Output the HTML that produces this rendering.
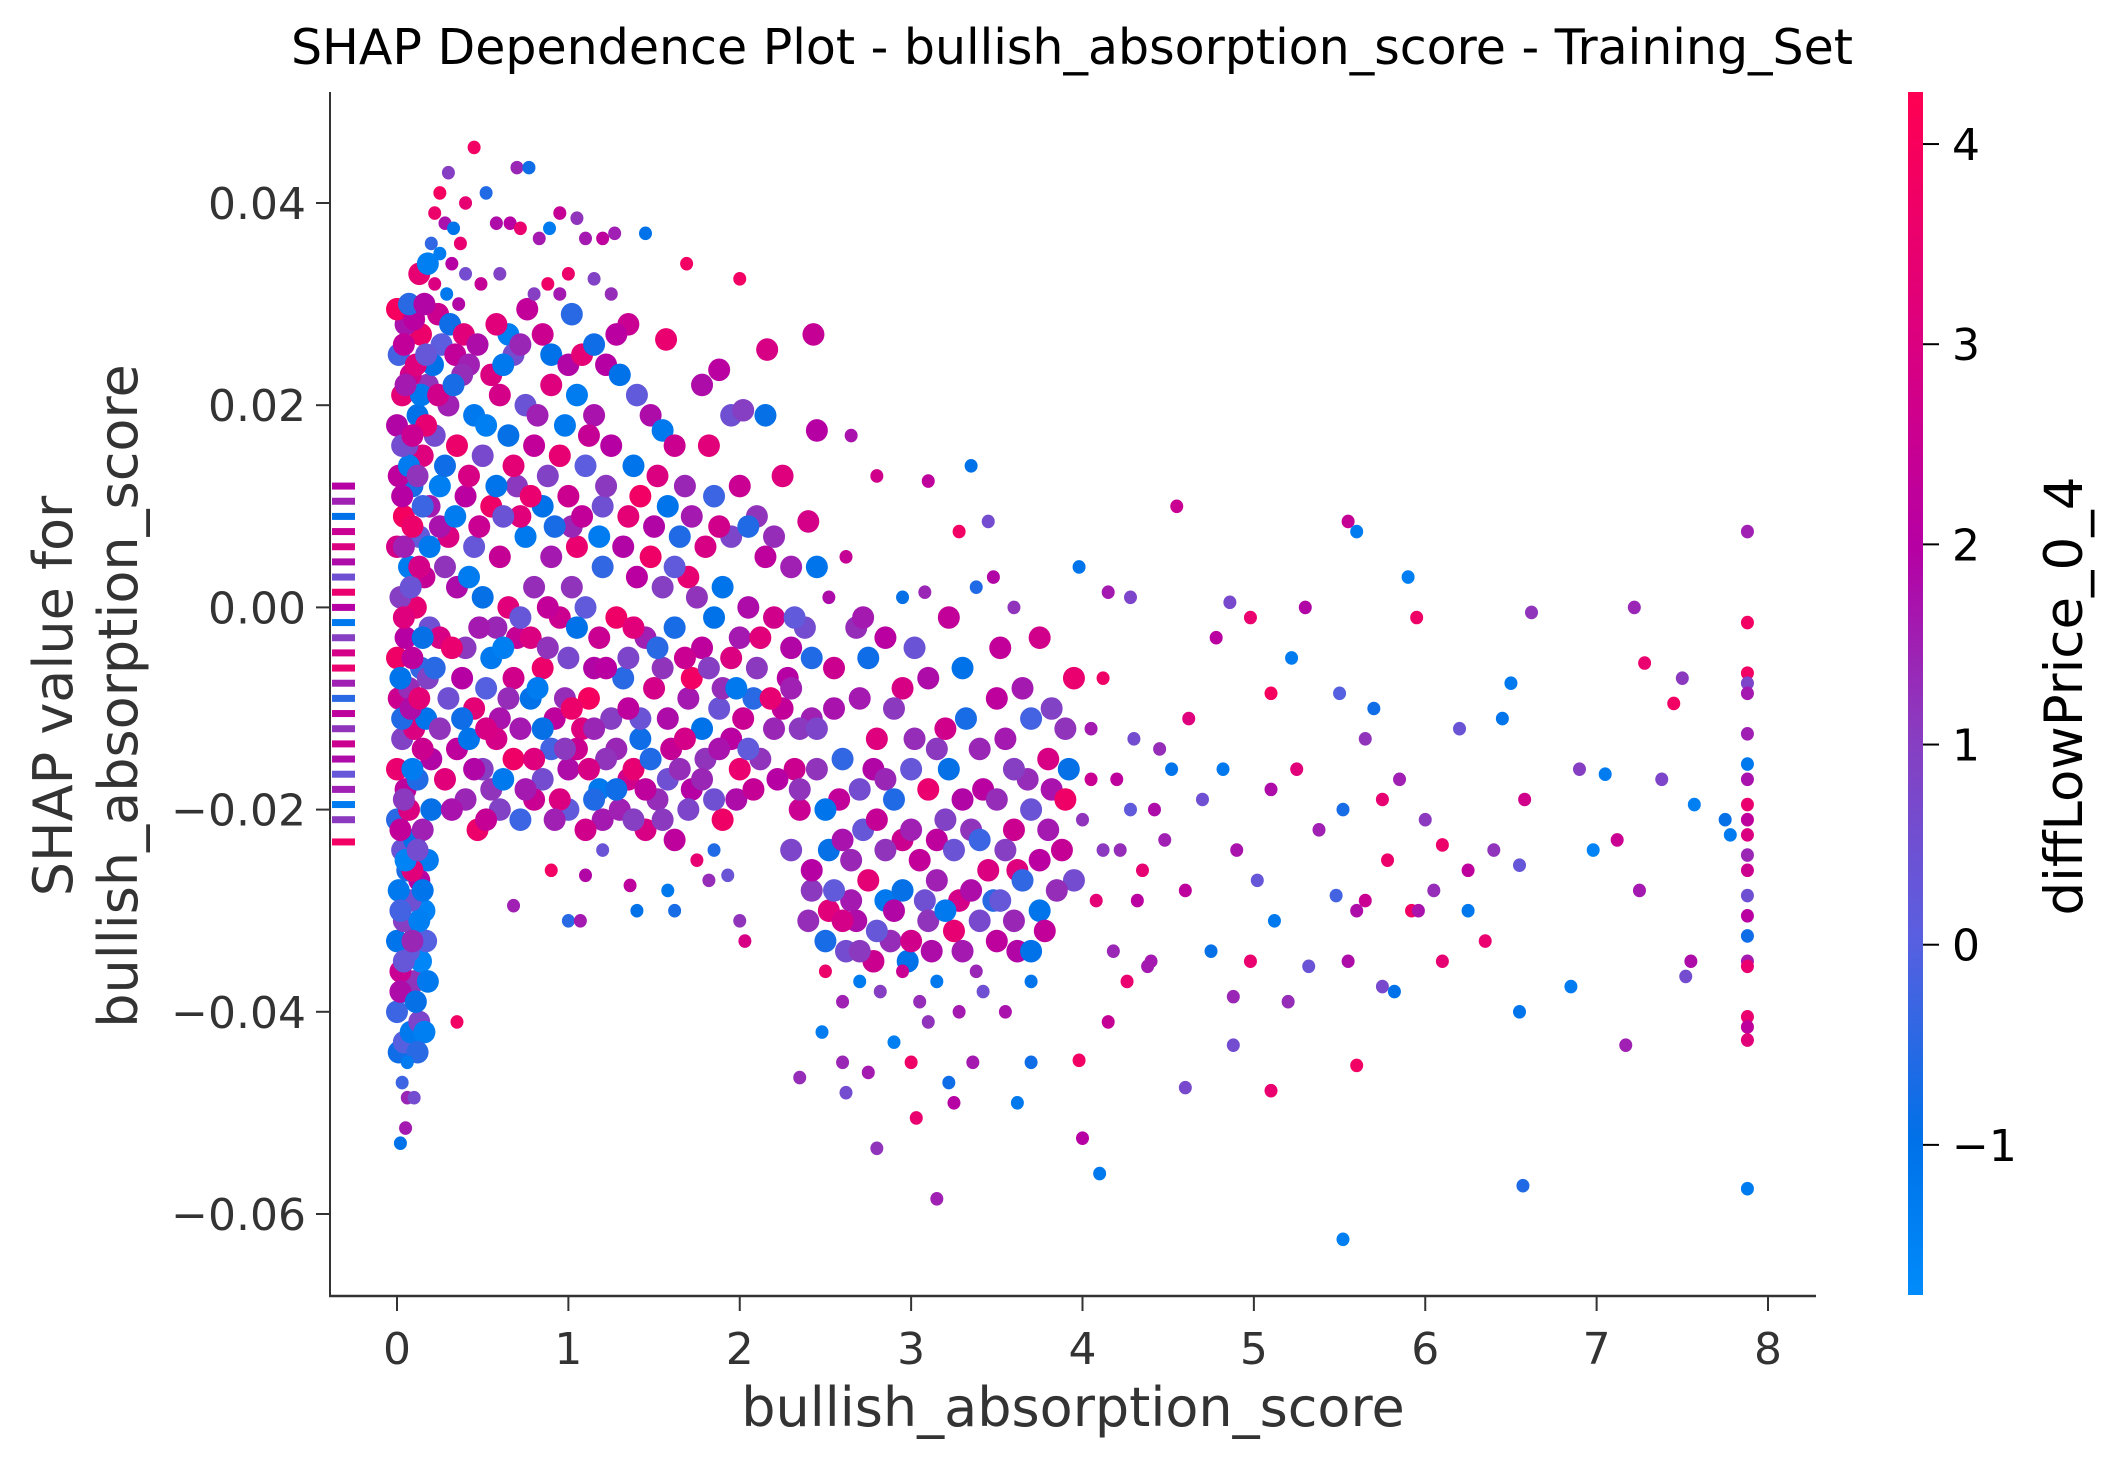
<!DOCTYPE html>
<html><head><meta charset="utf-8"><title>SHAP Dependence Plot</title>
<style>html,body{margin:0;padding:0;background:#fff}svg{display:block}text{font-family:"DejaVu Sans","Liberation Sans",sans-serif}</style>
</head><body>
<svg id="chart" width="2120" height="1471" viewBox="0 0 2120 1471" xmlns="http://www.w3.org/2000/svg">
<defs><linearGradient id="cbg" x1="0" y1="1" x2="0" y2="0">
<stop offset="0" stop-color="#008bfb"/><stop offset="0.13" stop-color="#0071e8"/><stop offset="0.3" stop-color="#5a5fe0"/><stop offset="0.47" stop-color="#8a3cc0"/><stop offset="0.62" stop-color="#b600a4"/><stop offset="0.8" stop-color="#dd007e"/><stop offset="1" stop-color="#ff0052"/></linearGradient></defs>
<text x="1072" y="64" font-size="49" text-anchor="middle" fill="#000">SHAP Dependence Plot - bullish_absorption_score - Training_Set</text>
<g id="rug"></g>
<g id="pts"></g>
<g id="axes"></g>
<text x="1073" y="1426" font-size="54" text-anchor="middle" fill="#333">bullish_absorption_score</text>
<text transform="translate(72,696) rotate(-90)" font-size="54" text-anchor="middle" fill="#333"><tspan x="0" dy="0">SHAP value for</tspan><tspan x="0" dy="65">bullish_absorption_score</tspan></text>
<rect x="1908" y="92" width="15" height="1203" fill="url(#cbg)"/>
<g id="cb"></g>
<text transform="translate(2082,696) rotate(-90)" font-size="53" text-anchor="middle" fill="#000">diffLowPrice_0_4</text>
</svg>
<script>
const xTicks=[0,1,2,3,4,5,6,7,8];
const yTicks=[0.04,0.02,0.00,-0.02,-0.04,-0.06];
const yTickLabels=["0.04","0.02","0.00","\u22120.02","\u22120.04","\u22120.06"];
const cTicks=[4,3,2,1,0,-1];
const cTickLabels=["4","3","2","1","0","\u22121"];
const rugY=[0.012,0.0105,0.009,0.0075,0.006,0.0045,0.003,0.0015,0,-0.0015,-0.003,-0.0045,-0.006,-0.0075,-0.009,-0.0105,-0.012,-0.0135,-0.015,-0.0165,-0.018,-0.0195,-0.021,-0.0232];
const rugC=[2,1.5,-1,2.5,3,1.8,0.5,3.5,2,-1.2,1,2.8,3.5,1.5,-0.5,2.2,1.2,2.6,1.8,0.3,1.5,-1.3,1.1,3.8];
const shapPoints=[
[0.02,-0.053,-1],[0.05,-0.0515,1.6],[0.06,-0.0485,1.4],[0.03,-0.047,-0.3],[0.1,-0.0485,0.6],[0.01,-0.044,-0.8],[0.04,-0.043,0],[0.08,-0.042,-1.2],[0.13,-0.041,0.8],[0.0,-0.04,-0.3],[0.16,-0.042,-1.4],[0.05,-0.038,-1],[0.1,-0.037,1.2],[0.02,-0.036,2.5],[0.14,-0.035,-1.6],[0.07,-0.034,0.2],[0.0,-0.033,-1.1],[0.11,-0.032,-0.8],[0.04,-0.031,1],[0.16,-0.03,-1.5],[0.08,-0.029,0.5],[0.01,-0.028,-1.2],[0.13,-0.027,2],[0.06,-0.026,-0.7],[0.18,-0.025,-1.3],[0.03,-0.024,0.4],[0.1,-0.023,-1],[0.15,-0.022,1.5],[0.0,-0.021,-0.5],[0.07,-0.02,3],[0.18,-0.037,-1.2],[0.12,-0.044,-0.5],[0.02,-0.038,1.8],[0.17,-0.033,0],[0.09,-0.026,3.2],[0.2,-0.02,-0.9],[0.35,-0.041,3.8],[0.05,-0.018,2.2],[0.0,-0.016,3.5],[0.12,-0.017,-0.6],[0.2,-0.015,1.9],[0.03,-0.013,0.9],[0.1,-0.012,3],[0.17,-0.011,-1.1],[0.01,-0.009,2.6],[0.07,-0.008,1.3],[0.14,-0.006,-0.4],[0.0,-0.005,3.7],[0.05,-0.003,2],[0.19,-0.002,0.5],[0.11,0.0,3.4],[0.02,0.001,1],[0.16,0.003,2.4],[0.07,0.004,-1.3],[0.0,0.006,2.8],[0.13,0.007,0.2],[0.04,0.009,3.9],[0.19,0.01,1.6],[0.09,0.012,-0.7],[0.01,0.013,2.2],[0.15,0.015,3.1],[0.06,0.016,0.8],[0.0,0.018,1.9],[0.12,0.019,-1],[0.03,0.021,3.3],[0.18,0.022,1.2],[0.08,0.023,2.7],[0.01,0.025,-0.2],[0.14,0.027,3.6],[0.05,0.028,1.7],[0.0,0.0295,3.9],[0.1,0.0285,2.1],
[0.06,-0.045,-1.3],[0.11,-0.039,-0.9],[0.04,-0.035,0.3],[0.13,-0.031,-1.4],[0.02,-0.03,-0.2],[0.09,-0.033,1.4],[0.15,-0.028,-1.1],[0.05,-0.025,-1.5],[0.12,-0.024,0.6],[0.02,-0.022,2.3],
[0.2,0.036,-0.4],[0.25,0.041,3.9],[0.3,0.043,1],[0.22,0.039,3.6],[0.28,0.038,1.7],[0.33,0.0375,-1.1],[0.37,0.036,3.5],[0.25,0.035,-1.3],[0.32,0.034,2],[0.4,0.033,0.6],[0.22,0.032,3],[0.29,0.031,-1.2],[0.36,0.03,1.9],[0.24,0.029,2.6],[0.31,0.028,-0.8],[0.39,0.027,3.2],[0.26,0.026,0.1],[0.34,0.025,2.3],[0.21,0.024,-1],[0.42,0.024,1.5],[0.45,0.0455,3.8],[0.4,0.04,3.4],[0.52,0.041,-0.6],[0.58,0.038,1.8],[0.49,0.032,2.4],[0.6,0.033,0.9],[0.7,0.0435,1.4],[0.77,0.0435,-0.8],[0.66,0.038,2],[0.72,0.0375,3.5],[0.83,0.0365,1.6],[0.89,0.0375,-1.3],[0.95,0.039,2.4],[1.05,0.0385,1.2],[1.1,0.0365,1.6],[1.2,0.0365,2.2],[1.27,0.037,1.5],[1.45,0.037,-1],[1.0,0.033,3.6],[0.76,0.0295,2.3],[0.8,0.031,1],[0.88,0.032,3.7],[0.95,0.031,1.6],[1.02,0.029,-0.5],[1.15,0.0325,0.9],[1.25,0.031,1.3],[1.35,0.028,2.5],[1.69,0.034,3.8],[2.0,0.0325,3.8],[2.43,0.027,2.4],[2.16,0.0255,2.9],[1.57,0.0265,3.5],[0.65,0.027,-1.4],[0.68,0.025,0.6],[0.55,0.023,3],[1.22,0.024,2],[1.3,0.023,-1],[1.4,0.021,0.2],[1.48,0.019,1.8],[1.55,0.0175,-1.2],[1.62,0.016,2.6],[1.78,0.022,1.8],[1.88,0.0235,2.1],[1.95,0.019,0.5],[2.02,0.0195,1],[2.15,0.019,-0.9],[1.82,0.016,3.2],[2.25,0.013,3.1],[2.45,0.0175,2],[2.65,0.017,1.7],[2.8,0.013,2.7],[3.1,0.0125,2.2],[3.35,0.014,-1],[3.45,0.0085,0.6],[3.28,0.0075,3.8],[2.4,0.0085,2.8],
[0.3,0.02,1.5],[0.45,0.019,-1.2],[0.6,0.021,2.8],[0.75,0.02,0.4],[0.9,0.022,3.1],[1.05,0.021,-1.3],[1.15,0.019,1.7],[0.35,0.016,3.6],[0.5,0.015,0.7],[0.65,0.017,-0.9],[0.8,0.016,2.3],[0.95,0.015,3.4],[1.1,0.014,0.1],[1.25,0.016,2],[1.38,0.014,-1.1],[1.52,0.013,3],[1.68,0.012,1.4],[1.85,0.011,-0.3],[2.0,0.012,2.5],[2.1,0.009,1.2],[0.25,0.012,-1.4],[0.4,0.011,2.1],[0.55,0.01,3.7],[0.7,0.012,1.1],[0.85,0.01,-1],[1.0,0.011,2.6],[1.2,0.01,0.5],[1.35,0.009,3.3],[1.5,0.008,1.9],[1.65,0.007,-0.6],[1.8,0.006,2.9],[1.95,0.007,0.8],[2.15,0.005,2.2],[2.3,0.004,1.5],[0.3,0.007,3],[0.45,0.006,0.3],[0.6,0.005,2.4],[0.75,0.007,-1.2],[0.9,0.005,1.6],[1.05,0.006,3.5],[1.2,0.004,-0.4],[1.4,0.003,2.1],[1.55,0.002,1],[1.7,0.003,3.4],[1.9,0.002,-1.1],[2.05,0.0,1.8],[2.2,-0.001,2.7],[2.38,-0.002,0.6],[0.35,0.002,1.8],[0.5,0.001,-0.9],[0.65,0.0,3.2],[0.8,0.002,1.3],[0.95,-0.001,2.6],[1.1,0.0,0.2],[1.28,-0.001,3.7],[1.45,-0.003,1.5],[1.62,-0.002,-0.7],[1.78,-0.004,2.2],[1.95,-0.005,3],[2.1,-0.006,1.1],[2.28,-0.007,2],[0.25,-0.003,2.9],[0.4,-0.004,1.1],[0.55,-0.005,-1.2],[0.7,-0.003,2.4],[0.85,-0.006,3.6],[1.0,-0.005,0.7],[1.15,-0.006,1.9],[1.32,-0.007,-0.5],[1.5,-0.008,2.8],[1.7,-0.009,1.6],[1.88,-0.01,0.4],[2.02,-0.011,2.5],[2.2,-0.012,1.4],[0.3,-0.009,0.5],[0.45,-0.01,3.3],[0.6,-0.011,1.7],[0.78,-0.009,-1],[0.92,-0.011,2.2],[1.08,-0.012,3.1],[1.25,-0.011,1],[1.42,-0.013,-0.8],[1.6,-0.014,2.4],[1.8,-0.015,1.2],[2.0,-0.016,3.5],[0.35,-0.014,2.2],[0.5,-0.016,1],[0.68,-0.015,3.7],[0.85,-0.017,0.6],[1.0,-0.016,1.8],[1.18,-0.018,-1.2],[1.35,-0.017,2.7],[1.52,-0.019,1.3],[1.72,-0.018,2],[0.4,-0.019,1.4],[0.6,-0.02,0.9],[0.8,-0.019,2.5],[1.0,-0.02,0.2],[1.2,-0.021,1.6],[1.45,-0.022,2.9],[1.7,-0.02,0.8],[1.9,-0.021,3.7],[0.47,-0.022,3.6],[0.68,-0.0295,1.5],[1.0,-0.031,-0.5],[1.07,-0.031,1.6],[1.1,-0.0265,1.9],[1.36,-0.0275,2.2],[1.4,-0.03,-1],[1.58,-0.028,-1.2],[1.62,-0.03,-0.7],[1.82,-0.027,1.3],[1.93,-0.0265,0.4],[2.0,-0.031,1.2],[2.03,-0.033,2.9],[1.75,-0.025,3.4],[0.9,-0.026,3.8],[1.2,-0.024,0.4],
[0.22,0.017,0.6],[0.38,0.023,1.3],[0.52,0.018,-1.4],[0.68,0.014,3.3],[0.82,0.019,1.5],[0.98,0.018,-1.2],[1.12,0.017,2.4],[0.28,0.014,-0.8],[0.42,0.013,2.9],[0.58,0.012,-1.1],[0.72,0.009,3.2],[0.88,0.013,0.9],[1.02,0.008,1.4],[1.18,0.007,-1.3],[1.32,0.006,1.9],[1.48,0.005,3.7],[1.62,0.004,0.2],[1.75,0.001,1.2],[1.85,-0.001,-1],[2.0,-0.003,1.6],[2.12,-0.003,3.2],[2.3,-0.004,1.9],[2.42,-0.005,-0.6],[0.28,0.004,1.2],[0.42,0.003,-1.3],[0.58,-0.002,1.4],[0.72,-0.001,0.3],[0.88,0.0,2.3],[1.02,0.002,1.2],[1.18,-0.003,2.5],[1.35,-0.005,0.8],[1.55,-0.006,1.2],[1.72,-0.007,3.8],[1.9,-0.008,1.3],[2.08,-0.009,-0.5],[2.25,-0.01,2.3],[2.42,-0.011,1.5],[0.38,-0.007,2],[0.52,-0.008,0],[0.68,-0.007,2.7],[0.82,-0.008,-1.3],[0.98,-0.009,1.3],[1.12,-0.009,3.9],[1.28,-0.014,1.4],[1.42,-0.011,0.4],[1.58,-0.011,1.8],[1.78,-0.012,-1],[1.95,-0.013,2.1],[2.12,-0.015,1.2],[2.32,-0.016,2.6],[0.42,-0.013,-1.1],[0.58,-0.013,2.8],[0.72,-0.012,1.6],[0.9,-0.014,-0.2],[1.05,-0.014,2.6],[1.22,-0.015,1.2],[1.38,-0.016,3.4],[1.58,-0.017,0.5],[1.78,-0.017,1.4],[1.98,-0.019,1.8],[0.55,-0.018,1.2],[0.75,-0.018,1.6],[0.95,-0.019,3],[1.15,-0.019,-0.6],[1.3,-0.02,1.5],[1.55,-0.021,1.1],
[0.04,-0.019,1.1],[0.09,-0.016,-1.3],[0.15,-0.014,2.6],[0.03,-0.011,-0.6],[0.08,-0.01,1.8],[0.13,-0.009,3.3],[0.18,-0.007,0.9],[0.02,-0.007,-1.1],[0.09,-0.005,2.2],[0.15,-0.003,-0.9],[0.04,-0.001,3.1],[0.08,0.002,0.4],[0.13,0.004,2.8],[0.19,0.006,-1.2],[0.04,0.006,1.5],[0.09,0.008,3.6],[0.15,0.01,-0.3],[0.03,0.011,2],[0.07,0.014,-1.3],[0.12,0.013,1.2],[0.17,0.018,3.4],[0.03,0.016,0.6],[0.09,0.017,2.5],[0.14,0.021,-1.2],[0.05,0.022,1.6],[0.11,0.024,3.1],[0.17,0.025,0.3],[0.04,0.026,2.3],[0.07,0.03,-0.5],[0.16,0.03,1.9],[0.13,0.033,3.4],[0.18,0.034,-1.4],
[0.24,0.021,2.7],[0.33,0.022,-0.7],[0.47,0.026,1.8],[0.58,0.028,3.2],[0.62,0.024,-1.2],[0.72,0.026,1.4],[0.85,0.027,2.6],[0.9,0.025,-1],[1.0,0.024,1.9],[1.08,0.025,3.3],[1.15,0.026,-0.8],[1.28,0.027,2.1],[0.25,0.008,1.7],[0.34,0.009,-1.3],[0.48,0.008,2.5],[0.62,0.009,0.4],[0.78,0.011,3.5],[0.92,0.008,-0.7],[1.08,0.009,2.3],[1.22,0.012,1.1],[1.42,0.011,3.8],[1.58,0.01,-1.1],[1.72,0.009,1.6],[1.88,0.008,2.7],[2.05,0.008,-0.6],[2.2,0.007,1.3],[0.22,-0.006,-0.5],[0.32,-0.004,3.5],[0.48,-0.002,1.6],[0.62,-0.004,-1.4],[0.78,-0.003,3],[0.88,-0.004,1.2],[1.05,-0.002,-1],[1.22,-0.006,2.1],[1.38,-0.002,3.2],[1.52,-0.004,-0.5],[1.68,-0.005,2.5],[1.82,-0.006,1],[1.98,-0.008,-1.2],[2.18,-0.009,3.4],[2.35,-0.012,1.1],[0.25,-0.012,1.2],[0.38,-0.011,-0.8],[0.52,-0.012,2.9],[0.65,-0.009,1.3],[0.85,-0.012,-0.9],[1.02,-0.01,3.6],[1.15,-0.012,1.4],[1.35,-0.01,2.2],[1.48,-0.015,-0.6],[1.68,-0.013,2.8],[1.88,-0.014,1.7],[2.05,-0.014,0.2],[2.22,-0.017,2],[0.28,-0.017,3.2],[0.45,-0.016,1.9],[0.62,-0.017,-1.2],[0.8,-0.015,3.1],[0.98,-0.014,1.1],[1.12,-0.016,2.9],[1.28,-0.018,-0.8],[1.45,-0.018,2.2],[1.65,-0.016,1.3],[1.85,-0.019,0.5],[2.08,-0.018,2.4],[0.32,-0.02,1.7],[0.52,-0.021,2.4],[0.72,-0.021,-0.3],[0.92,-0.021,1.5],[1.1,-0.022,2.7],[1.38,-0.021,1],[1.62,-0.023,2.2],[1.85,-0.024,-0.6],
[2.35,-0.02,2.5],[2.45,-0.016,1.2],[2.52,-0.024,-0.9],[2.58,-0.019,2.3],[2.65,-0.029,1.6],[2.72,-0.022,0.3],[2.78,-0.016,1.9],[2.85,-0.029,-1.2],[2.95,-0.023,2.6],[3.02,-0.013,1.3],[3.08,-0.029,0.5],[3.15,-0.023,2.2],[3.22,-0.016,-0.9],[3.28,-0.029,2.8],[3.35,-0.022,1.2],[3.42,-0.018,2.1],[3.48,-0.029,-0.5],[3.55,-0.013,1.6],[3.62,-0.026,3.1],[3.68,-0.017,1.3],[3.75,-0.03,-1.1],[3.82,-0.018,1.7],[3.88,-0.024,2.4],[3.95,-0.027,0.6],[2.42,-0.028,1.1],[2.52,-0.03,3.2],[2.62,-0.034,0.6],[2.68,-0.031,1.8],[2.78,-0.035,2.6],[2.88,-0.033,1.3],[2.98,-0.035,-1],[3.12,-0.034,1.8],[3.25,-0.032,3.4],[3.38,-0.036,1.4],[3.52,-0.029,0.3],[3.62,-0.034,1.9],[3.78,-0.032,2.3],[2.55,-0.01,1.7],[2.75,-0.005,-0.8],[2.85,-0.017,1.4],[2.95,-0.008,2.9],[3.15,-0.014,1.1],[3.32,-0.011,-0.7],[3.52,-0.004,2.3],[3.65,-0.008,1.6],[3.82,-0.01,0.9],[3.92,-0.016,-0.9],[4.05,-0.017,2.5],[4.12,-0.024,1.1],[4.28,-0.02,0.2],[4.08,-0.029,3.3],[4.18,-0.034,1.4],[4.32,-0.029,2.1],[4.45,-0.014,1.3],
[2.3,-0.008,1.5],[2.45,-0.012,0.8],[2.55,-0.006,2.6],[2.6,-0.015,-0.4],[2.7,-0.009,1.6],[2.8,-0.013,3.1],[2.9,-0.01,1.1],[3.0,-0.016,0.3],[3.1,-0.007,1.8],[3.2,-0.012,2.7],[3.3,-0.006,-1],[3.4,-0.014,1.4],[3.5,-0.009,2.2],[3.6,-0.016,1],[3.7,-0.011,-0.2],[3.8,-0.015,2.9],[3.9,-0.012,1.2],[2.35,-0.018,1.2],[2.5,-0.02,-1.1],[2.6,-0.023,1.7],[2.7,-0.018,0.6],[2.8,-0.021,2.4],[2.9,-0.019,-0.6],[3.0,-0.022,1.5],[3.1,-0.018,3.5],[3.2,-0.021,0.9],[3.3,-0.019,1.9],[3.4,-0.023,-0.3],[3.5,-0.019,1.3],[3.6,-0.022,2.6],[3.7,-0.02,0.4],[3.8,-0.022,1.6],[3.9,-0.019,3.7],[4.0,-0.021,1.2],[2.3,-0.024,0.8],[2.42,-0.026,2],[2.55,-0.028,0.2],[2.65,-0.025,1.4],[2.75,-0.027,3.3],[2.85,-0.024,1.2],[2.95,-0.028,-0.9],[3.05,-0.025,2.3],[3.15,-0.027,1.5],[3.25,-0.024,0.4],[3.35,-0.028,1.8],[3.45,-0.026,3],[3.55,-0.024,1],[3.65,-0.027,-0.4],[3.75,-0.025,2.1],[3.85,-0.028,1.3],[2.4,-0.031,1.3],[2.5,-0.033,-0.7],[2.6,-0.031,2.8],[2.7,-0.034,1.1],[2.8,-0.032,0.3],[2.9,-0.03,1.9],[3.0,-0.033,2.7],[3.1,-0.031,1.2],[3.2,-0.03,-1.2],[3.3,-0.034,1.6],[3.4,-0.031,0.7],[3.5,-0.033,2.2],[3.6,-0.031,1.4],[3.7,-0.034,-1],[2.5,-0.036,3.6],[2.6,-0.039,1.5],[2.7,-0.037,-1.3],[2.82,-0.038,1],[2.95,-0.036,2.5],[3.05,-0.039,1.3],[3.15,-0.037,-1.2],[3.28,-0.04,1.6],[3.42,-0.038,0.5],[3.55,-0.04,1.7],[3.7,-0.037,-1.1],[2.48,-0.042,-1.3],[2.6,-0.045,1.4],[2.62,-0.048,0.6],[2.75,-0.046,1.6],[2.9,-0.043,-1.4],[3.0,-0.045,3.7],[3.1,-0.041,1.2],[3.22,-0.047,-0.8],[3.25,-0.049,2],[3.36,-0.045,1.6],[3.62,-0.049,-1.2],[3.7,-0.045,-0.8],[2.35,-0.0465,1.3],[2.8,-0.0535,1.2],[3.03,-0.0505,3.5],[3.15,-0.0585,1.5],[4.1,-0.056,-1.2],[4.0,-0.0525,2],[3.98,-0.0448,3.8],[4.15,-0.041,2.4],[4.26,-0.037,3.5],[4.4,-0.035,1.6],[2.32,-0.001,0.2],[2.52,0.001,1.8],[2.68,-0.002,1.3],[2.85,-0.003,2.1],[3.02,-0.004,0.4],[2.45,0.004,-1.1],[2.62,0.005,2.4],[2.72,-0.001,1.6],[2.95,0.001,-0.9],[3.08,0.0015,1.4],[3.22,-0.001,2.3],[3.38,0.002,-0.6],[3.48,0.003,1.9],[3.6,0.0,1.2],[3.75,-0.003,2.7],[3.98,0.004,-1.1],[4.15,0.0015,1.6],[4.28,0.001,0.8],[4.12,-0.007,3.7],[3.95,-0.007,3.5],[4.05,-0.012,1.6],[4.2,-0.017,2.2],[4.3,-0.013,0.6],[4.42,-0.02,1.8],[4.52,-0.016,-1.1],[4.62,-0.011,3.1],[4.22,-0.024,1.3],[4.35,-0.026,3.4],[4.48,-0.023,1.5],[4.6,-0.028,2.2],[4.7,-0.019,0.5],[4.82,-0.016,-1.2],[4.9,-0.024,1.7],[5.02,-0.027,0.3],[4.55,0.01,2.5],[4.78,-0.003,2.1],[4.86,0.0005,0.7],[4.98,-0.001,3.5],[5.1,-0.0085,3.9],[5.22,-0.005,-1.3],[5.3,0.0,1.9],[5.1,-0.018,1.8],[5.25,-0.016,3.2],[5.38,-0.022,1.5],[5.5,-0.0085,0],[5.52,-0.02,-0.7],[5.55,0.0085,2.4],[5.6,0.0075,-1.3],[5.65,-0.013,1.2],[5.7,-0.01,-0.8],[5.75,-0.019,3.4],[5.9,0.003,-1.4],[5.95,-0.001,3.7],[5.85,-0.017,1.5],[6.0,-0.021,1.1],[6.05,-0.028,1.3],[6.2,-0.012,0.4],[6.1,-0.0235,3.6],[6.25,-0.026,2.2],[6.35,-0.033,3.5],[6.4,-0.024,1.2],[6.45,-0.011,-1.1],[6.5,-0.0075,-1.2],[6.58,-0.019,2.7],[6.55,-0.0255,0.3],[6.62,-0.0005,1.2],[6.55,-0.04,-1.1],[6.57,-0.0572,-0.6],[6.85,-0.0375,-1.3],[6.9,-0.016,1],[6.98,-0.024,-1.5],[7.05,-0.0165,-1.3],[7.12,-0.023,2.5],[7.25,-0.028,1.6],[7.28,-0.0055,3.5],[7.22,0.0,1.4],[7.38,-0.017,0.8],[7.45,-0.0095,3.8],[7.5,-0.007,1.1],[7.52,-0.0365,0.6],[7.57,-0.0195,-1.4],[7.55,-0.035,1.8],[7.78,-0.0225,-1.3],[7.75,-0.021,-0.9],[7.17,-0.0433,1.5],[5.52,-0.0625,-1.4],[5.6,-0.0453,3.8],[5.55,-0.035,1.8],[5.32,-0.0355,0.4],[5.48,-0.0285,-0.2],[5.6,-0.03,1.8],[5.75,-0.0375,0.7],[5.78,-0.025,3.6],[5.65,-0.029,2.5],[5.82,-0.038,-1],[5.92,-0.03,3.8],[5.96,-0.03,1.7],[6.1,-0.035,3.4],[6.25,-0.03,-1.2],[5.1,-0.0478,3.5],[4.88,-0.0433,0.6],[4.88,-0.0385,1.4],[4.98,-0.035,3.5],[5.12,-0.031,-1.2],[5.2,-0.039,1.3],[4.6,-0.0475,0.7],[4.75,-0.034,-0.9],[4.38,-0.0355,1.6],
[7.88,0.0075,1.5],[7.88,-0.0015,3.8],[7.88,-0.0065,3.8],[7.88,-0.0075,0.8],[7.88,-0.0085,1.6],[7.88,-0.0125,1.5],[7.88,-0.0155,-1.2],[7.88,-0.017,1.7],[7.88,-0.0195,3.5],[7.88,-0.021,2.2],[7.88,-0.0225,3],[7.88,-0.0245,1.4],[7.88,-0.026,2.6],[7.88,-0.0285,0.5],[7.88,-0.0305,2.1],[7.88,-0.0325,-0.8],[7.88,-0.035,1.6],[7.88,-0.0355,3.5],[7.88,-0.0405,3.5],[7.88,-0.0415,2.2],[7.88,-0.0428,3.2],[7.88,-0.0575,-1.3]
];
const xs=shapPoints.map(p=>p[0]);
const ys=shapPoints.map(p=>p[1]);
const cs=shapPoints.map(p=>p[2]);
const NS="http://www.w3.org/2000/svg";
const X0=397,X1=1768,Y04=203,Ym06=1214;
const xScale=v=>X0+(X1-X0)*v/8;
const yScale=v=>Y04+(0.04-v)*(Ym06-Y04)/0.1;
const cTop=92,cBot=1295,cMax=4.26,cMin=-1.75;
const cScale=v=>cTop+(cMax-v)*(cBot-cTop)/(cMax-cMin);
const stops=[[0,[0,139,251]],[0.13,[0,113,232]],[0.3,[90,95,224]],[0.47,[138,60,192]],[0.62,[182,0,164]],[0.8,[221,0,126]],[1,[255,0,82]]];
function colorOf(v){let t=(v-cMin)/(cMax-cMin);t=Math.max(0,Math.min(1,t));
for(let i=1;i<stops.length;i++){if(t<=stops[i][0]){const a=stops[i-1],b=stops[i];const f=(t-a[0])/(b[0]-a[0]);
const c=a[1].map((q,k)=>Math.round(q+(b[1][k]-q)*f));return `rgb(${c[0]},${c[1]},${c[2]})`;}}return "rgb(255,0,82)";}
function mk(tag,attrs,parent){const e=document.createElementNS(NS,tag);for(const k in attrs)e.setAttribute(k,attrs[k]);parent.appendChild(e);return e;}
const pts=document.getElementById('pts');
for(let i=0;i<xs.length;i++){const dense=(xs[i]<2.5&&ys[i]>-0.024&&ys[i]<0.03)||(xs[i]>=2.3&&xs[i]<4&&ys[i]<0&&ys[i]>-0.036)||(xs[i]<0.2&&ys[i]>-0.045);
const r=dense?11:6.5;
const c=mk('ellipse',{cx:xScale(xs[i]),cy:yScale(ys[i]),rx:r,ry:r+0.3,fill:colorOf(cs[i])},pts);

}
const rug=document.getElementById('rug');
for(let i=0;i<rugY.length;i++){const r=mk('rect',{x:332,y:yScale(rugY[i])-3.5,width:23,height:7,fill:colorOf(rugC[i])},rug);

}
const ax=document.getElementById('axes');
const ls=mk('line',{x1:330,y1:92,x2:330,y2:1296,stroke:'#333','stroke-width':2},ax);


const bs=mk('line',{x1:329,y1:1296,x2:1816,y2:1296,stroke:'#333','stroke-width':2.5},ax);


xTicks.forEach(v=>{const x=xScale(v);const t=mk('line',{x1:x,y1:1297,x2:x,y2:1311,stroke:'#333','stroke-width':2},ax);


const l=mk('text',{x:x,y:1364,'font-size':44,'text-anchor':'middle',fill:'#333'},ax);l.textContent=String(v);

});
yTicks.forEach((v,i)=>{const y=yScale(v);const t=mk('line',{x1:316,y1:y,x2:330,y2:y,stroke:'#333','stroke-width':2},ax);


const l=mk('text',{x:306,y:y+16,'font-size':44,'text-anchor':'end',fill:'#333'},ax);l.textContent=yTickLabels[i];

});
const cb=document.getElementById('cb');
cTicks.forEach((v,i)=>{const y=cScale(v);const t=mk('line',{x1:1923,y1:y,x2:1939,y2:y,stroke:'#000','stroke-width':2},cb);


const l=mk('text',{x:1952,y:y+16,'font-size':44,fill:'#000'},cb);l.textContent=cTickLabels[i];

});
</script>
</body></html>
